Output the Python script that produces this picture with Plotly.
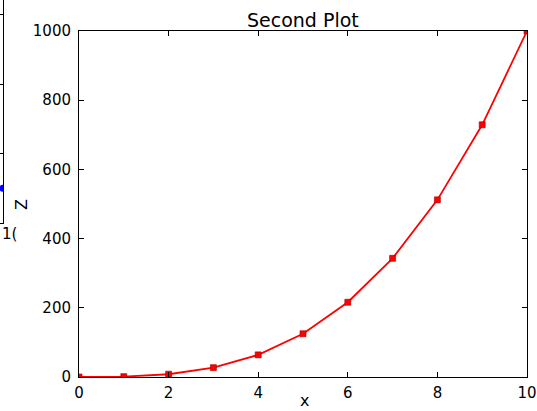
import plotly.graph_objects as go

# Second plot data
x_vals = [0, 1, 2, 3, 4, 5, 6, 7, 8, 9, 10]
z_vals = [0, 1, 8, 27, 64, 125, 216, 343, 512, 729, 1000]
x_ticks = [0, 2, 4, 6, 8, 10]
y_ticks = [0, 200, 400, 600, 800, 1000]

# Visible fragment of the first plot (cut off at the left edge)
first_x = [10]
first_y = [10]
first_y_ticks = [0, 20, 40, 60]

W, H = 537, 411
FONT = "DejaVu Sans"

fig = go.Figure()
fig.add_trace(go.Scatter(
    x=x_vals, y=z_vals, mode="lines+markers",
    line=dict(color="#ff0000", width=1.8),
    marker=dict(symbol="square", size=6, color="#ff0000",
                line=dict(color="#a00000", width=0.6)),
    cliponaxis=True, xaxis="x", yaxis="y", showlegend=False,
))
fig.add_trace(go.Scatter(
    x=first_x, y=first_y, mode="markers",
    marker=dict(symbol="circle", size=7, color="#0000ff"),
    cliponaxis=True, xaxis="x2", yaxis="y2", showlegend=False,
))

axis_common = dict(
    showline=True, linecolor="black", linewidth=1, mirror="allticks",
    ticks="inside", ticklen=5, tickcolor="black", tickwidth=1,
    showgrid=False, zeroline=False, automargin=False,
    tickfont=dict(family=FONT, size=15, color="black"),
)

fig.update_layout(
    width=W, height=H, autosize=False,
    margin=dict(l=0, r=0, t=0, b=0, pad=0),
    paper_bgcolor="white", plot_bgcolor="white",
    xaxis=dict(domain=[79 / W, 527 / W], range=[0, 10], tickvals=x_ticks,
               anchor="y", ticklabelstandoff=2, **axis_common),
    yaxis=dict(domain=[1 - 377 / H, 1 - 31 / H], range=[0, 1000], tickvals=y_ticks,
               anchor="x", ticklabelstandoff=4, **axis_common),
    xaxis2=dict(domain=[0, 3 / W], range=[9.6, 10], anchor="y2", automargin=False,
                showline=True, linecolor="black", linewidth=1,
                showticklabels=False, ticks="", showgrid=False, zeroline=False),
    yaxis2=dict(domain=[1 - 223 / H, 1], range=[0, 64.2], anchor="x2", side="right",
                tickvals=first_y_ticks, showline=True, linecolor="black", linewidth=1,
                ticks="inside", ticklen=3, tickcolor="black", automargin=False,
                showticklabels=False, showgrid=False, zeroline=False),
    annotations=[
        dict(text="Second Plot", xref="paper", yref="paper",
             x=303 / W, y=1 - 20 / H, xanchor="center", yanchor="middle",
             showarrow=False, font=dict(family=FONT, size=19, color="black")),
        dict(text="x", xref="paper", yref="paper",
             x=304 / W, y=1 - 400 / H, xanchor="center", yanchor="middle",
             showarrow=False, font=dict(family=FONT, size=16, color="black")),
        dict(text="Z", xref="paper", yref="paper", textangle=-90,
             x=22 / W, y=1 - 205 / H, xanchor="center", yanchor="middle",
             showarrow=False, font=dict(family=FONT, size=16, color="black")),
        dict(text="1(", xref="paper", yref="paper",
             x=0, y=1 - 234 / H, xanchor="left", yanchor="middle",
             showarrow=False, font=dict(family=FONT, size=15, color="black")),
    ],
)

fig.write_html(
    "out.html",
    config={"responsive": False, "displayModeBar": False},
    post_script="document.body.style.margin='0';document.body.style.overflow='hidden';",
)
